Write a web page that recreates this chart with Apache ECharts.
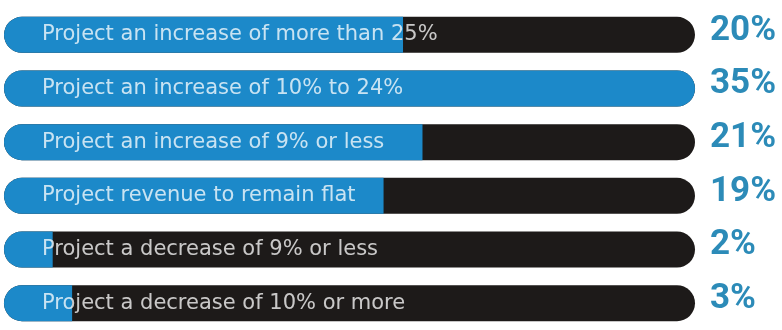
<!DOCTYPE html>
<html>
<head>
<meta charset="utf-8">
<script src="https://cdn.jsdelivr.net/npm/echarts@6/dist/echarts.min.js"></script>
<style>
  html, body { margin: 0; padding: 0; background: #ffffff; }
  #chart { width: 782px; height: 330px; }
</style>
</head>
<body>
<div id="chart"></div>
<script>
// Revenue outlook categories and the share of respondents for each
const categories = [
  'Project an increase of more than 25%',
  'Project an increase of 10% to 24%',
  'Project an increase of 9% or less',
  'Project revenue to remain flat',
  'Project a decrease of 9% or less',
  'Project a decrease of 10% or more'
];
const shares = [20, 35, 21, 19, 2, 3];
const shareLabels = ['20%', '35%', '21%', '19%', '2%', '3%'];

// Scale: the full track stands for the largest share
const scaleMin = -0.5;
const scaleMax = 35;

const BLUE = '#1c89c9';
const TRACK = '#1d1a19';
const VALUE_COLOR = '#2c8bb8';

const chart = echarts.init(document.getElementById('chart'));

function renderRow(params, api) {
  const idx = params.dataIndex;
  const val = api.value(0);
  const left = api.coord([scaleMin, idx]);
  const end = api.coord([scaleMax, idx]);
  const fillEnd = api.coord([val, idx]);
  const h = 36;
  const r = h / 2;
  const y = left[1] - h / 2;
  const trackW = end[0] - left[0];
  const fillW = fillEnd[0] - left[0];
  const full = fillW >= trackW - 0.5;
  return {
    type: 'group',
    children: [
      {
        type: 'rect',
        shape: { x: left[0], y: y, width: trackW, height: h, r: r },
        style: { fill: TRACK }
      },
      {
        type: 'rect',
        shape: { x: left[0], y: y, width: fillW, height: h, r: full ? r : [r, 0, 0, r] },
        style: { fill: BLUE }
      },
      {
        type: 'text',
        x: left[0] + 38,
        y: left[1],
        style: {
          text: categories[idx],
          fill: 'rgba(255,255,255,0.76)',
          font: 'normal 21px "DejaVu Sans", sans-serif',
          verticalAlign: 'middle',
          align: 'left'
        }
      },
      {
        type: 'text',
        x: end[0] + 15,
        y: left[1] - 4,
        style: {
          text: shareLabels[idx],
          fill: VALUE_COLOR,
          font: 'bold 35px Roboto, "DejaVu Sans", sans-serif',
          verticalAlign: 'middle',
          align: 'left'
        }
      }
    ]
  };
}

chart.setOption({
  backgroundColor: '#ffffff',
  animation: false,
  grid: { left: 4, top: 8, width: 691, height: 335 },
  xAxis: {
    type: 'value',
    min: scaleMin,
    max: scaleMax,
    show: false
  },
  yAxis: {
    type: 'category',
    data: categories,
    inverse: true,
    show: false
  },
  series: [{
    type: 'custom',
    clip: false,
    renderItem: renderRow,
    encode: { x: 0, y: 1 },
    data: shares.map((v, i) => [v, i])
  }]
});
</script>
</body>
</html>
